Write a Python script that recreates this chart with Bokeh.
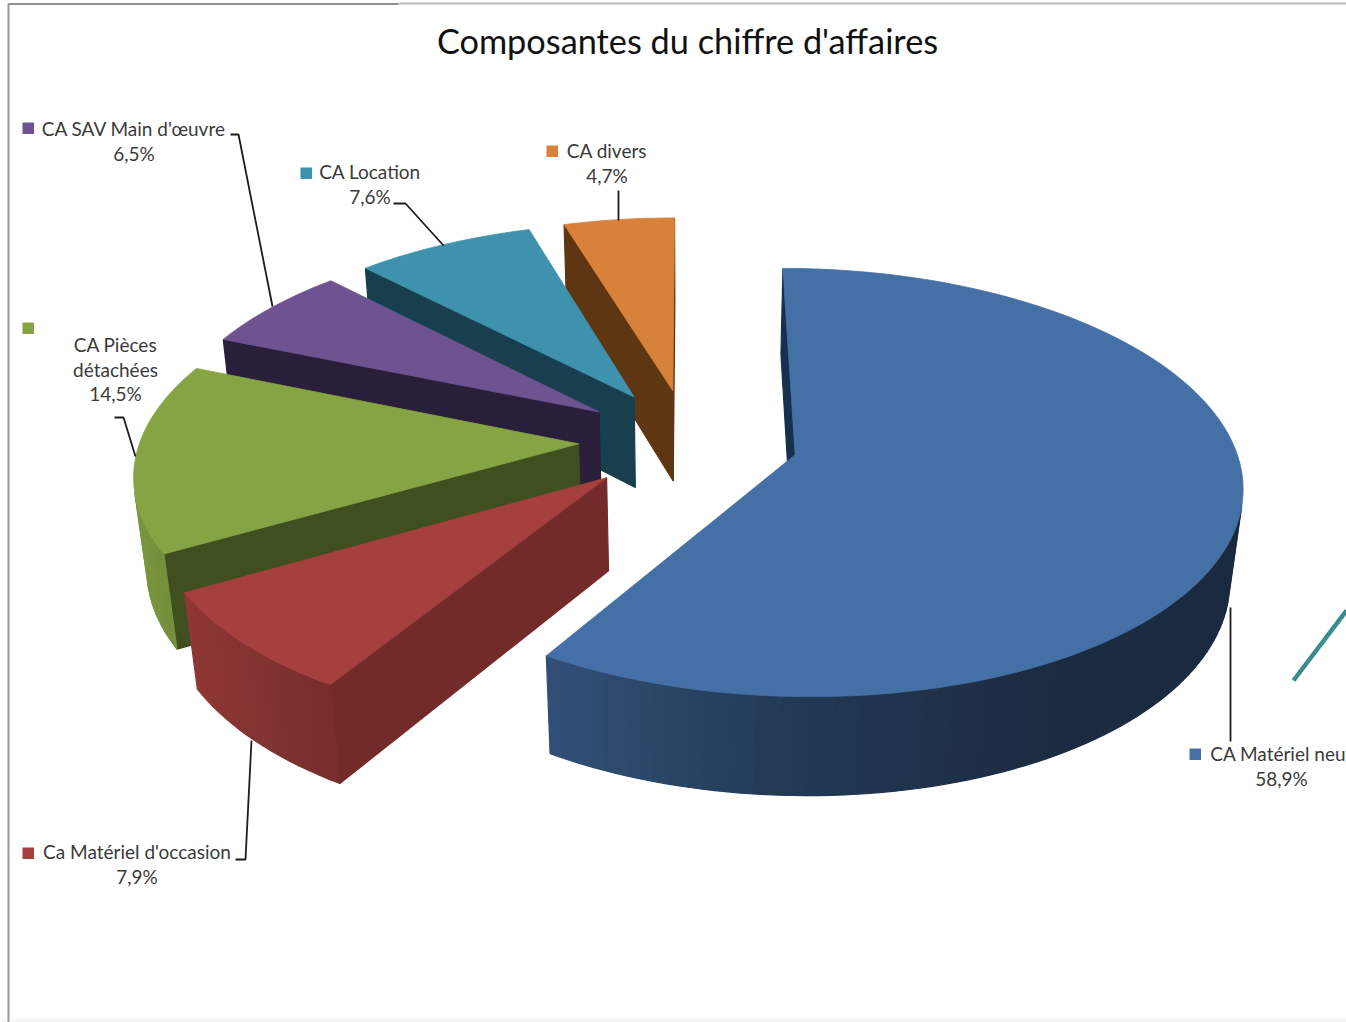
import numpy as np
from bokeh.plotting import figure
from bokeh.models import ColumnDataSource
from bokeh.core.properties import value
from bokeh.embed import file_html
from bokeh.resources import INLINE

# ---- data (clockwise from 12 o'clock) ----
names = ["CA Matériel neuf", "Ca Matériel d'occasion", "CA Pièces détachées",
         "CA SAV Main d'œuvre", "CA Location", "CA divers"]
shares = [58.9, 7.9, 14.5, 6.5, 7.6, 4.7]
top_colors = ["#4570A6", "#A5403E", "#87A445", "#6F5390", "#3F92AE", "#D8813A"]
cut_colors = ["#16304F", "#732B2A", "#3F4F20", "#2A1F3A", "#173F4E", "#5E3612"]
title = "Composantes du chiffre d'affaires"
label_lines = [["CA Matériel neuf"], ["Ca Matériel d'occasion"], ["CA Pièces", "détachées"],
               ["CA SAV Main d'œuvre"], ["CA Location"], ["CA divers"]]

# ---- 3-D view of the pie ----
CX, CY = 688.0, 440.0
SX, SY = 445.0, 210.0
RADIUS = 0.985
DEPTH = 94.0
PERSP_Y, PERSP_Z = 0.13, 0.024
EXPLODE = [0.247, 0.25, 0.247, 0.247, 0.247, 0.247]


def project(X, Y, Z):
    w = 1 + PERSP_Y * Y + PERSP_Z * Z
    return CX + SX * X / w, CY - SY * Y / w + DEPTH * Z / w


def rgb(hexa, f):
    r, g, b = int(hexa[1:3], 16), int(hexa[3:5], 16), int(hexa[5:7], 16)
    return "#%02x%02x%02x" % (int(r * f), int(g * f), int(b * f))


def arc_shade(theta):
    return float(np.interp(np.sin(theta), [-1, -.87, -.53, 0, .5, 1], [.93, .87, .72, .50, .40, .38]))


def area(pts):
    s = 0.0
    for i in range(len(pts)):
        x0, y0 = pts[i]
        x1, y1 = pts[(i + 1) % len(pts)]
        s += x0 * y1 - x1 * y0
    return s / 2


p = figure(width=1346, height=1022, x_range=(0, 1346), y_range=(1022, 0),
           output_backend="svg", toolbar_location=None, min_border=0,
           background_fill_color="white",
           border_fill_color="white", outline_line_color=None)
p.axis.visible = False
p.grid.visible = False

# page furniture
p.quad(left=[0], right=[1346], top=[1018], bottom=[1022], fill_color="#f6f6f6", line_color=None)
p.line([8, 8], [3, 1022], line_color="#9a9a9a", line_width=2)
p.line([8, 398], [3.5, 3.5], line_color="#8f8f8f", line_width=2)
p.line([398, 1346], [3, 3], line_color="#b8b8b8", line_width=2)

# ---- slices, far ones first ----
total = sum(shares)
edges = np.cumsum([0] + shares) / total * 2 * np.pi
for i in [5, 4, 3, 2, 1, 0]:
    a0, a1 = edges[i], edges[i + 1]
    mid = (a0 + a1) / 2
    ox, oy = EXPLODE[i] * np.sin(mid), EXPLODE[i] * np.cos(mid)
    n = max(6, int((a1 - a0) / np.radians(1.5)))
    th = np.linspace(a0, a1, n + 1)
    rim = [(ox + RADIUS * np.sin(t), oy + RADIUS * np.cos(t)) for t in th]
    apex = (ox, oy)

    xs, ys, cols = [], [], []

    def wall(A, B, col):
        ta, tb = project(A[0], A[1], 0), project(B[0], B[1], 0)
        bb, ba = project(B[0], B[1], 1), project(A[0], A[1], 1)
        q = [ta, tb, bb, ba]
        if area(q) < 0:
            xs.append([c[0] for c in q])
            ys.append([c[1] for c in q])
            cols.append(col)

    wall(apex, rim[0], cut_colors[i])
    wall(rim[-1], apex, cut_colors[i])
    for j in range(n):
        wall(rim[j], rim[j + 1], rgb(top_colors[i], arc_shade((th[j] + th[j + 1]) / 2)))
    if xs:
        p.patches(xs, ys, fill_color=cols, line_color=cols, line_width=1.2)

    outline = [apex] + rim
    tx, ty = zip(*[project(a, b, 0) for a, b in outline])
    p.patch(list(tx), list(ty), fill_color=top_colors[i], line_color=top_colors[i], line_width=0.8)

# ---- leader lines ----
leaders = [
    ([1230, 1230], [607, 741]),
    ([235, 245, 251], [859, 859, 740]),
    ([114, 123, 135], [417, 417, 456]),
    ([230, 238, 272], [134, 134, 306]),
    ([393, 405, 443], [203, 203, 245]),
    ([618, 618], [190, 220]),
]
for lx, ly in leaders:
    p.line(lx, ly, line_color="#1c1c1c", line_width=1.8)

# stray teal stroke at the right edge
p.line([1293, 1346], [680, 610], line_color="#3A8C8F", line_width=4.5)

# ---- labels ----
key_x = [1189, 22, 22, 22, 300, 546]
key_y = [748, 847, 322, 122, 167, 145]
p.quad(left=key_x, right=[k + 11.5 for k in key_x], top=key_y, bottom=[k + 11.5 for k in key_y],
       fill_color=top_colors, line_color=None)

lab_txt, lab_x, lab_y = [], [], []
name_x = [1281, 136.5, 115, 133.5, 369.5, 606.5]
name_y = [753, 851, 344, 128, 171, 150]
for lines, v, x, y in zip(label_lines, shares, name_x, name_y):
    rows = lines + [f"{v:.1f}%".replace(".", ",")]
    for k, row in enumerate(rows):
        lab_txt.append(row)
        lab_x.append(x)
        lab_y.append(y + 24.7 * k)
src = ColumnDataSource(dict(x=lab_x, y=lab_y, t=lab_txt))
p.text("x", "y", text="t", source=src, text_font=value("Lato"), text_font_size="19px",
       text_align="center", text_baseline="middle", text_color="#3a3a3a")

p.text([687], [40], text=[title], text_font=value("Lato"), text_font_size="34.3px",
       text_align="center", text_baseline="middle", text_color="#111111")

open("out.html", "w").write(file_html(p, INLINE))
